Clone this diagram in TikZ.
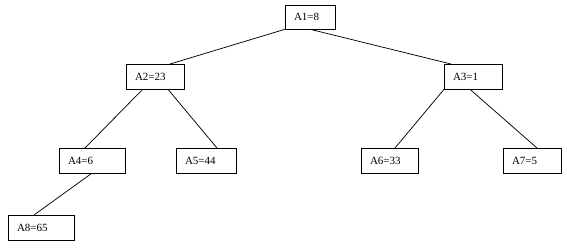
\documentclass[tikz,border=0pt]{standalone}
\usepackage{fontspec}
\setmainfont{Liberation Serif}
\begin{document}
\begin{tikzpicture}[x=0.75pt,y=-0.75pt,
  box/.style={draw, rectangle, anchor=north west, align=left, inner xsep=6.75pt, inner ysep=0pt,
    outer sep=0pt, minimum height=19pt, line width=0.6pt, font=\fontsize{8.25pt}{9pt}\selectfont},
  edge/.style={line width=0.55pt}]
\fill[white] (0,0) rectangle (567,248);
\useasboundingbox (0,0) rectangle (567,248);
\node[box, text width=24pt, minimum height=18.2pt] (a1) at (285,5) {A1=8};
\node[box, text width=30pt] (a2) at (126,64) {A2=23};
\node[box, text width=30pt] (a3) at (444,64) {A3=1};
\node[box, text width=36.4pt] (a4) at (59,148) {A4=6};
\node[box, text width=31.5pt] (a5) at (176,148) {A5=44};
\node[box, text width=29.25pt] (a6) at (361,148) {A6=33};
\node[box, text width=30pt] (a7) at (503,148) {A7=5};
\node[box, text width=36pt] (a8) at (8,215) {A8=65};
\draw[edge] (a1.south west) -- ([xshift=33pt]a2.north west);
\draw[edge] (a1.south) -- ([xshift=5.25pt]a3.north west);
\draw[edge] ([xshift=12.5pt]a2.south west) -- ([xshift=19.5pt]a4.north west);
\draw[edge] ([xshift=31.5pt]a2.south west) -- ([xshift=30.75pt]a5.north west);
\draw[edge] (a3.south west) -- ([xshift=25.5pt]a6.north west);
\draw[edge] ([xshift=19.5pt]a3.south west) -- ([xshift=25.5pt]a7.north west);
\draw[edge] ([xshift=24.5pt]a4.south west) -- ([xshift=19.5pt]a8.north west);
\end{tikzpicture}
\end{document}
